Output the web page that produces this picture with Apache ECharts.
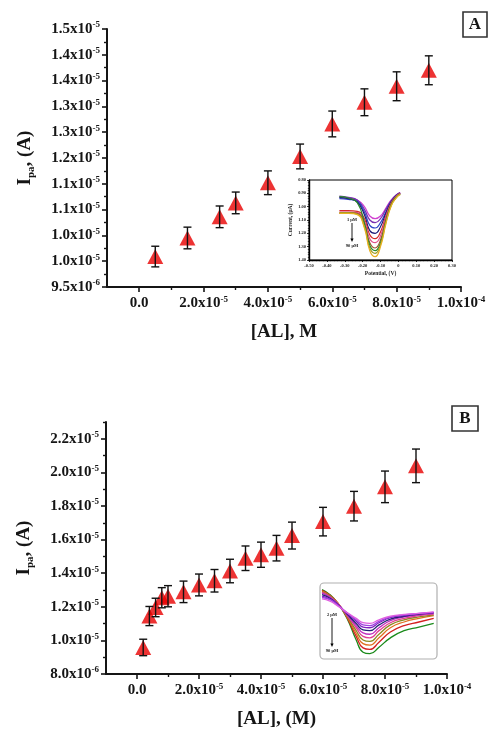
<!DOCTYPE html>
<html><head><meta charset="utf-8">
<script src="https://cdn.jsdelivr.net/npm/echarts@6/dist/echarts.min.js"></script>
<style>html,body{margin:0;padding:0;background:#fff}#c{width:489px;height:731px}</style>
</head><body><div id="c"></div>
<script>
// ---------- Panel A data ----------
const concA = [0.5e-5, 1.5e-5, 2.5e-5, 3e-5, 4e-5, 5e-5, 6e-5, 7e-5, 8e-5, 9e-5];
const ipaA  = [1.009e-5, 1.045e-5, 1.086e-5, 1.113e-5, 1.152e-5, 1.203e-5, 1.266e-5, 1.308e-5, 1.339e-5, 1.370e-5];
const errA  = [0.20e-6, 0.21e-6, 0.21e-6, 0.21e-6, 0.23e-6, 0.24e-6, 0.25e-6, 0.26e-6, 0.28e-6, 0.28e-6];
// ---------- Panel B data ----------
const concB = [2e-6, 4e-6, 6e-6, 8e-6, 1e-5, 1.5e-5, 2e-5, 2.5e-5, 3e-5, 3.5e-5, 4e-5, 4.5e-5, 5e-5, 6e-5, 7e-5, 8e-5, 9e-5];
const ipaB  = [0.958e-5, 1.145e-5, 1.196e-5, 1.254e-5, 1.263e-5, 1.289e-5, 1.330e-5, 1.355e-5, 1.413e-5, 1.489e-5, 1.510e-5, 1.549e-5, 1.624e-5, 1.707e-5, 1.799e-5, 1.914e-5, 2.039e-5];
const errB  = [0.49e-6, 0.57e-6, 0.55e-6, 0.60e-6, 0.63e-6, 0.64e-6, 0.65e-6, 0.67e-6, 0.70e-6, 0.73e-6, 0.75e-6, 0.76e-6, 0.80e-6, 0.85e-6, 0.88e-6, 0.94e-6, 1.00e-6];
// ---------- Tick values / labels ----------
const xTickVals   = [0, 2e-5, 4e-5, 6e-5, 8e-5, 1e-4];
const xTickLabels = ['0.0', '2.0x10^-5', '4.0x10^-5', '6.0x10^-5', '8.0x10^-5', '1.0x10^-4'];
const xMinorVals  = [1e-5, 3e-5, 5e-5, 7e-5, 9e-5];
const yTickValsA   = [9.5e-6, 1.0e-5, 1.05e-5, 1.1e-5, 1.15e-5, 1.2e-5, 1.25e-5, 1.3e-5, 1.35e-5, 1.4e-5, 1.45e-5];
const yTickLabelsA = ['9.5x10^-6', '1.0x10^-5', '1.0x10^-5', '1.1x10^-5', '1.1x10^-5', '1.2x10^-5', '1.3x10^-5', '1.3x10^-5', '1.4x10^-5', '1.4x10^-5', '1.5x10^-5'];
const yMinorValsA  = [9.75e-6, 1.025e-5, 1.075e-5, 1.125e-5, 1.175e-5, 1.225e-5, 1.275e-5, 1.325e-5, 1.375e-5, 1.425e-5];
const yTickValsB   = [8e-6, 1.0e-5, 1.2e-5, 1.4e-5, 1.6e-5, 1.8e-5, 2.0e-5, 2.2e-5];
const yTickLabelsB = ['8.0x10^-6', '1.0x10^-5', '1.2x10^-5', '1.4x10^-5', '1.6x10^-5', '1.8x10^-5', '2.0x10^-5', '2.2x10^-5'];
const yMinorValsB  = [9e-6, 1.1e-5, 1.3e-5, 1.5e-5, 1.7e-5, 1.9e-5, 2.1e-5, 2.3e-5];
// ---------- Inset A (voltammograms) ----------
const insetPotA = [-0.33, -0.28, -0.23, -0.19, -0.16, -0.13, -0.10, -0.07, -0.04, -0.01, 0.01];
const insetColorsA = ['#d040d0', '#7a2fb0', '#2f45c8', '#1c1c78', '#d42a2a', '#e0508a', '#a0522d', '#2a8a2a', '#9a9a20', '#e8b020'];
const insetCurvesA = [
  [0.930, 0.935, 0.950, 1.000, 1.070, 1.090, 1.070, 1.010, 0.950, 0.910, 0.895],
  [0.920, 0.930, 0.950, 1.020, 1.100, 1.120, 1.090, 1.020, 0.955, 0.910, 0.895],
  [0.940, 0.945, 0.960, 1.040, 1.140, 1.160, 1.120, 1.040, 0.960, 0.915, 0.900],
  [0.930, 0.940, 0.965, 1.060, 1.180, 1.200, 1.150, 1.050, 0.965, 0.915, 0.900],
  [1.030, 1.030, 1.035, 1.090, 1.210, 1.240, 1.190, 1.070, 0.970, 0.920, 0.900],
  [1.040, 1.040, 1.045, 1.110, 1.240, 1.270, 1.220, 1.080, 0.975, 0.920, 0.900],
  [1.050, 1.045, 1.050, 1.130, 1.270, 1.310, 1.250, 1.100, 0.980, 0.925, 0.905],
  [0.925, 0.935, 0.970, 1.120, 1.290, 1.330, 1.270, 1.110, 0.985, 0.925, 0.905],
  [1.045, 1.045, 1.055, 1.150, 1.310, 1.350, 1.285, 1.120, 0.990, 0.930, 0.905],
  [1.050, 1.050, 1.060, 1.160, 1.330, 1.375, 1.300, 1.130, 0.995, 0.930, 0.910]
];
// ---------- Inset B (voltammograms, relative units) ----------
const insetPosB = [0, 7, 14, 22, 30, 36, 42, 50, 60, 72, 85, 98];
const insetColorsB = ['#1a8a1a', '#d42020', '#e07020', '#8a8a20', '#e04090', '#c030c0', '#202070', '#8020c0', '#a040e0', '#e060e0'];
const insetCurvesB = [
  [5, 12, 24, 45, 75, 92, 94, 85, 72, 62, 57, 52],
  [6, 13, 24, 44, 70, 86, 88, 78, 64, 55, 50, 45],
  [7, 13.5, 24, 43, 66, 80, 82, 72, 58, 50, 45, 41],
  [8, 14, 25, 42, 62, 75, 77, 67, 54, 47, 43, 40],
  [9, 15, 25, 41, 58, 70, 72, 62, 51, 45, 41, 39],
  [10, 15.5, 25, 40, 55, 65, 67, 58, 48, 43, 40, 38],
  [12, 17, 26, 39, 52, 61, 62, 54, 46, 42, 39, 37],
  [14, 18, 26, 38, 49, 57, 58, 51, 44, 41, 38.5, 37],
  [16, 19, 27, 37, 47, 54, 55, 49, 43, 40, 38, 36.5],
  [18, 21, 28, 37, 45, 51, 52, 47, 42, 39.5, 38, 36]
];

const SERIF = '"Liberation Serif", "DejaVu Serif", serif';
const INK = '#151515';
const rich = {
  m: {fontFamily: SERIF, fontWeight: 'bold', fontSize: 15, color: INK, lineHeight: 17},
  s: {fontFamily: SERIF, fontWeight: 'bold', fontSize: 9, color: INK, verticalAlign: 'top', lineHeight: 9}
};
function fmt(vals, labels) {
  return function (v) {
    const i = vals.findIndex(t => Math.abs(t - v) < 1e-10);
    if (i < 0) return '';
    const parts = labels[i].split('^');
    return parts[1] ? '{m|' + parts[0] + '}{s|' + parts[1] + '}' : '{m|' + parts[0] + '}';
  };
}
const nameRich = {
  i: {fontFamily: SERIF, fontWeight: 'bold', fontSize: 19, color: INK, lineHeight: 24},
  p: {fontFamily: SERIF, fontWeight: 'bold', fontSize: 11, color: INK, verticalAlign: 'bottom', lineHeight: 24}
};
const axisLineStyle = {color: INK, width: 2};

function mainX(grid, name) {
  return [{
    gridIndex: grid, type: 'value', position: 'bottom', min: -1e-5, max: 1e-4,
    axisLine: {show: true, onZero: false, lineStyle: axisLineStyle},
    axisTick: {show: true, customValues: xTickVals, length: 5, lineStyle: {color: INK, width: 1.6}},
    axisLabel: {customValues: xTickVals, formatter: fmt(xTickVals, xTickLabels), rich: rich, margin: 8},
    splitLine: {show: false},
    name: name, nameLocation: 'middle', nameGap: 36,
    nameTextStyle: {fontFamily: SERIF, fontWeight: 'bold', fontSize: 19, color: INK}
  }, {
    gridIndex: grid, type: 'value', position: 'bottom', min: -1e-5, max: 1e-4,
    axisLine: {show: false, onZero: false},
    axisTick: {show: true, customValues: xMinorVals, length: 3, lineStyle: {color: INK, width: 1.4}},
    axisLabel: {show: false}, splitLine: {show: false}
  }];
}
function mainY(grid, min, max, vals, labels, minor) {
  return [{
    gridIndex: grid, type: 'value', position: 'left', min: min, max: max,
    axisLine: {show: true, onZero: false, lineStyle: axisLineStyle},
    axisTick: {show: true, customValues: vals, length: 5, lineStyle: {color: INK, width: 1.6}},
    axisLabel: {customValues: vals, formatter: fmt(vals, labels), rich: rich, margin: 7},
    splitLine: {show: false},
    name: '{i|I}{p|pa}{i|, (A)}', nameLocation: 'middle', nameGap: 70,
    nameTextStyle: {rich: nameRich}
  }, {
    gridIndex: grid, type: 'value', position: 'left', min: min, max: max,
    axisLine: {show: false, onZero: false},
    axisTick: {show: true, customValues: minor, length: 3, lineStyle: {color: INK, width: 1.4}},
    axisLabel: {show: false}, splitLine: {show: false}
  }];
}
const tiny = {fontFamily: SERIF, fontSize: 4.5, color: '#222', fontWeight: 'bold'};

const xAxes = [].concat(
  mainX(0, '[AL], M'),
  [{gridIndex: 1, type: 'value', min: -0.5, max: 0.3, interval: 0.1,
    axisLine: {onZero: false, lineStyle: {color: '#000', width: 1.4}},
    axisTick: {length: 2, lineStyle: {width: 0.8}, inside: false},
    minorTick: {show: true, splitNumber: 5, length: 1.2, lineStyle: {color: '#000', width: 0.6}},
    axisLabel: Object.assign({margin: 3, formatter: v => Math.abs(v) < 1e-9 ? '0' : v.toFixed(2)}, tiny),
    splitLine: {show: false},
    name: 'Potential, (V)', nameLocation: 'middle', nameGap: 11,
    nameTextStyle: {fontFamily: SERIF, fontSize: 5.5, fontWeight: 'bold', color: '#222'}}],
  mainX(2, '[AL], (M)'),
  [{gridIndex: 3, type: 'value', min: 0, max: 100, show: false}]
);
const yAxes = [].concat(
  mainY(0, 9.5e-6, 1.45e-5, yTickValsA, yTickLabelsA, yMinorValsA),
  [{gridIndex: 1, type: 'value', min: 0.8, max: 1.4, interval: 0.1, inverse: true,
    axisLine: {onZero: false, lineStyle: {color: '#000', width: 1.4}},
    axisTick: {length: 2, lineStyle: {width: 0.8}},
    minorTick: {show: true, splitNumber: 5, length: 1.2, lineStyle: {color: '#000', width: 0.6}},
    axisLabel: Object.assign({margin: 3, formatter: v => v.toFixed(2)}, tiny),
    splitLine: {show: false},
    name: 'Current, (μA)', nameLocation: 'middle', nameGap: 15,
    nameTextStyle: {fontFamily: SERIF, fontSize: 5.5, fontWeight: 'bold', color: '#222'}}],
  mainY(2, 8e-6, 2.3e-5, yTickValsB, yTickLabelsB, yMinorValsB),
  [{gridIndex: 3, type: 'value', min: 0, max: 100, inverse: true, show: false}]
);

function errRender(params, api) {
  const x = api.value(0), y = api.value(1), e = api.value(2);
  const hi = api.coord([x, y + e]), lo = api.coord([x, y - e]);
  const w = 4;
  const st = {stroke: '#111', lineWidth: 1.4};
  return {type: 'group', children: [
    {type: 'line', shape: {x1: hi[0], y1: hi[1], x2: lo[0], y2: lo[1]}, style: st},
    {type: 'line', shape: {x1: hi[0] - w, y1: hi[1], x2: hi[0] + w, y2: hi[1]}, style: st},
    {type: 'line', shape: {x1: lo[0] - w, y1: lo[1], x2: lo[0] + w, y2: lo[1]}, style: st}
  ]};
}

const series = [];
function addMain(xi, yi, conc, ipa, err) {
  series.push({type: 'scatter', xAxisIndex: xi, yAxisIndex: yi, symbol: 'triangle', symbolSize: [16, 15],
    itemStyle: {color: '#e80000'}, data: conc.map((c, i) => [c, ipa[i]]), z: 2});
  series.push({type: 'custom', xAxisIndex: xi, yAxisIndex: yi, renderItem: errRender, z: 3,
    encode: {x: 0, y: 1}, data: conc.map((c, i) => [c, ipa[i], err[i]])});
}
addMain(0, 0, concA, ipaA, errA);
addMain(3, 3, concB, ipaB, errB);
insetCurvesA.forEach((cv, k) => series.push({type: 'line', xAxisIndex: 2, yAxisIndex: 2, smooth: true, showSymbol: false,
  lineStyle: {color: insetColorsA[k], width: 1.2}, data: insetPotA.map((p, i) => [p, cv[i]]), z: 4}));
insetCurvesB.forEach((cv, k) => series.push({type: 'line', xAxisIndex: 5, yAxisIndex: 5, smooth: true, showSymbol: false,
  lineStyle: {color: insetColorsB[k], width: 1.3}, data: insetPosB.map((p, i) => [p, cv[i]]), z: 4}));

function arrow(x, y1, y2, top, bottom, fs) {
  return [
    {type: 'line', shape: {x1: x, y1: y1, x2: x, y2: y2 - 3}, style: {stroke: '#000', lineWidth: 0.9}, z: 10},
    {type: 'polygon', shape: {points: [[x - 1.6, y2 - 3.5], [x + 1.6, y2 - 3.5], [x, y2]]}, style: {fill: '#000'}, z: 10},
    {type: 'text', x: x, y: y1 - 1, style: {text: top, font: 'bold ' + fs + 'px ' + SERIF, fill: '#222', align: 'center', verticalAlign: 'bottom'}, z: 10},
    {type: 'text', x: x, y: y2 + 1, style: {text: bottom, font: 'bold ' + fs + 'px ' + SERIF, fill: '#222', align: 'center', verticalAlign: 'top'}, z: 10}
  ];
}
const graphic = [].concat(
  [{type: 'rect', shape: {x: 463, y: 12, width: 24, height: 25}, style: {stroke: '#333', lineWidth: 1.6, fill: '#fff'}},
   {type: 'text', x: 475, y: 25, style: {text: 'A', font: 'bold 17px ' + SERIF, fill: INK, align: 'center', verticalAlign: 'middle'}},
   {type: 'rect', shape: {x: 452, y: 406, width: 26, height: 25}, style: {stroke: '#333', lineWidth: 1.6, fill: '#fff'}},
   {type: 'text', x: 465, y: 419, style: {text: 'B', font: 'bold 17px ' + SERIF, fill: INK, align: 'center', verticalAlign: 'middle'}},
   {type: 'rect', shape: {x: 320, y: 583, width: 117, height: 76, r: 4}, style: {stroke: '#b0b0b0', lineWidth: 1.2, fill: 'none'}, z: 1}],
  arrow(352, 223, 242, '1 μM', '90 μM', 4.5),
  arrow(332, 618, 647, '2 μM', '90 μM', 4.5)
);

const chart = echarts.init(document.getElementById('c'), null, {renderer: 'canvas'});
chart.setOption({
  animation: false,
  backgroundColor: '#fff',
  grid: [
    {left: 107, top: 29, width: 354, height: 258},
    {left: 309, top: 180, width: 143, height: 80, show: true, borderColor: '#000', borderWidth: 1, backgroundColor: '#fff'},
    {left: 106, top: 422, width: 341, height: 252},
    {left: 322, top: 586, width: 114, height: 72}
  ],
  xAxis: xAxes,
  yAxis: yAxes,
  series: series,
  graphic: graphic
});
</script></body></html>
